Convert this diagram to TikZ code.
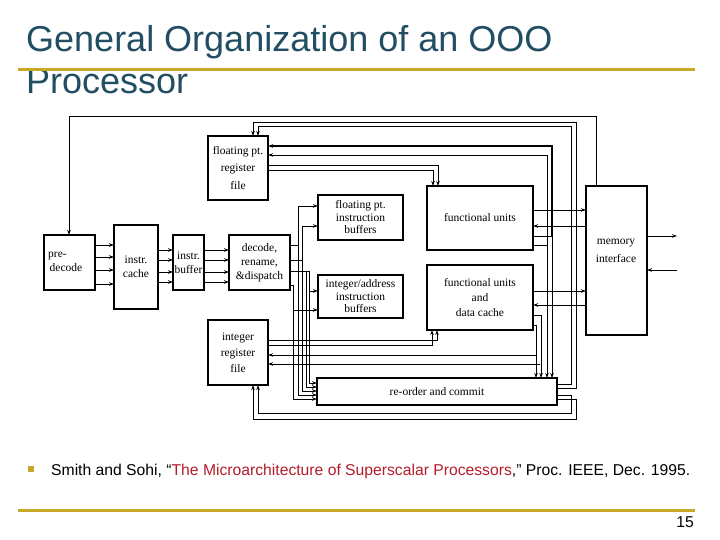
\documentclass[tikz,border=0pt]{standalone}
\usepackage{fontspec}
\setmainfont{Liberation Serif}
\newfontfamily\slidefont{Liberation Sans}
\usetikzlibrary{arrows.meta,calc}
\definecolor{titlecol}{RGB}{33,78,98}
\definecolor{goldcol}{RGB}{200,168,40}
\definecolor{refred}{RGB}{180,28,40}
\tikzset{
  blk/.style={draw, line width=2.6pt, align=center, inner sep=1pt, outer sep=0pt, font=\fontsize{11.5}{14}\selectfont},
  wire/.style={line width=0.8pt},
  arr/.style={wire, -{Stealth[length=5pt,width=3.5pt]}},
  goldrule/.style={goldcol, line width=3pt},
}
\begin{document}
\begin{tikzpicture}[x=1pt,y=-1pt]
\useasboundingbox (0,0) rectangle (720,540);
% title
\node[anchor=base west, inner sep=0pt, text=titlecol, align=left, font=\slidefont\fontsize{36}{42}\selectfont] (title) at (26,94) {General Organization of an OOO\\Processor};
\draw[goldrule] (18,70) coordinate (g1) -- (695,70) coordinate (g2);
\draw[goldrule] (18,510) coordinate (g3) -- (695,510) coordinate (g4);
% boxes
\node[blk, anchor=north west, minimum width=51, minimum height=55] (pre) at (44,235) {};
\node[anchor=west, align=left, inner sep=0pt, font=\fontsize{11.5}{14}\selectfont] (pretxt) at (48,262) {pre-\\\hspace*{1.5pt}decode};
\node[blk, anchor=north west, minimum width=44, minimum height=84] (cache) at (114,225) {instr.\\cache};
\node[blk, anchor=north west, minimum width=31, minimum height=55, font=\fontsize{11.5}{13.5}\selectfont] (buf) at (173,235) {instr.\\buffer};
\node[blk, anchor=north west, minimum width=61, minimum height=55, font=\fontsize{11.5}{14}\selectfont] (dec) at (229,235) {decode,\\rename,\\\&dispatch};
\node[blk, anchor=north west, minimum width=60, minimum height=64, font=\fontsize{11.5}{17.5}\selectfont] (fpreg) at (208,136) {floating pt.\\register\\file};
\node[blk, anchor=north west, minimum width=85, minimum height=45, font=\fontsize{11.5}{12.5}\selectfont] (fpbuf) at (318,195) {floating pt.\\instruction\\buffers};
\node[blk, anchor=north west, minimum width=106, minimum height=64] (fu) at (427,186) {functional units};
\node[blk, anchor=north west, minimum width=85, minimum height=43, font=\fontsize{11.5}{12.5}\selectfont] (intbuf) at (318,275) {integer/address\\instruction\\buffers};
\node[blk, anchor=north west, minimum width=106, minimum height=65, font=\fontsize{11.5}{15}\selectfont] (fudc) at (427,265) {functional units\\and\\data cache};
\node[blk, anchor=north west, minimum width=60, minimum height=65, font=\fontsize{11.5}{16}\selectfont] (intreg) at (208,320) {integer\\register\\file};
\node[blk, anchor=north west, minimum width=240, minimum height=27] (rob) at (317,378) {re-order and commit};
\node[blk, anchor=north west, minimum width=61, minimum height=149] (mem) at (586,186) {};
\node[align=center, inner sep=0pt, font=\fontsize{11.5}{18}\selectfont] (memtxt) at (616,251) {memory\\interface};
% front end arrows
\foreach \y in {245,257,270,284} \draw[arr] (pre.east |- 0,\y) -- (cache.west |- 0,\y);
\foreach \y in {250,260,272,282} \draw[arr] (cache.east |- 0,\y) -- (buf.west |- 0,\y);
\foreach \y in {250,260,272,282} \draw[arr] (buf.east |- 0,\y) -- (dec.west |- 0,\y);
% memory feedback to predecode
\draw[arr] (mem.north west) ++(10,0) |- (69,116) -- (pre.north -| 69,0);
% memory external
\coordinate (extout) at (677,236);
\coordinate (extin) at (677,270);
\draw[arr] (mem.east |- extout) -- (extout);
\draw[arr] (extin) -- (mem.east |- extin);
% functional units <-> memory
\draw[arr] (fu.east |- 0,210) -- (mem.west |- 0,210);
\draw[arr] (mem.west |- 0,226) -- (fu.east |- 0,226);
\draw[arr] (fudc.east |- 0,291) -- (mem.west |- 0,291);
\draw[arr] (mem.west |- 0,305) -- (fudc.east |- 0,305);
% fu results -> fp reg file and rob
\draw[wire] (fu.east |- 0,236) -- (552,236);
\draw[wire] (fu.east |- 0,245) -- (547,245);
\draw[arr, line width=1.6pt] (552,236) |- (fpreg.east |- 0,146);
\draw[arr] (547,245) |- (fpreg.east |- 0,155);
\draw[arr] (552,236) -- (rob.north -| 552,0);
\draw[arr] (547,245) -- (rob.north -| 547,0);
% fudc results -> rob and int reg
\draw[arr] (fudc.east |- 0,315) -| (rob.north -| 541,0);
\draw[arr] (fudc.east |- 0,325) -| (rob.north -| 536,0);
\draw[arr] (536,355) -- (intreg.east |- 0,355);
\draw[arr] (540,364) -- (intreg.east |- 0,364);
% fp reg -> fu
\draw[arr] (fpreg.east |- 0,165) -| (fu.north -| 438,0);
\draw[arr] (fpreg.east |- 0,170) -| (fu.north -| 433,0);
% int reg -> fudc
\draw[arr] (intreg.east |- 0,340) -| (fudc.south -| 437,0);
\draw[arr] (intreg.east |- 0,345) -| (fudc.south -| 432,0);
% rob commit -> register files
\draw[arr] (rob.east |- 0,384) -| (571,126) -| (fpreg.north -| 258,0);
\draw[arr] (rob.east |- 0,388) -| (576,122) -| (fpreg.north -| 253,0);
\draw[arr] (rob.east |- 0,395) -| (571,413) -| (intreg.south -| 258,0);
\draw[arr] (rob.east |- 0,399) -| (576,419) -| (intreg.south -| 253,0);
% decode -> buffers and rob
\draw[wire] (dec.east |- 0,245) -- (298,245);
\draw[wire] (dec.east |- 0,260) -- (302,260);
\draw[wire] (dec.east |- 0,271) -- (309,271);
\draw[wire] (dec.east |- 0,285) -- (293,285);
\draw[arr] (298,245) |- (fpbuf.west |- 0,206);
\draw[arr] (302,260) |- (fpbuf.west |- 0,226);
\draw[arr] (309,271) |- (intbuf.west |- 0,291);
\draw[arr] (293,285) |- (intbuf.west |- 0,310);
\draw[arr] (293,285) |- (rob.west |- 0,399);
\draw[arr] (298,245) |- (rob.west |- 0,395);
\draw[arr] (302,260) |- (rob.west |- 0,391);
\draw[arr] (306,271) |- (rob.west |- 0,387);
\draw[arr] (309,271) |- (rob.west |- 0,383);
% citation
\fill[goldcol] (28,466) rectangle (34,472);
\node[anchor=base west, inner sep=0pt, font=\slidefont\fontsize{15.7}{18}\selectfont] (cite) at (51,475) {Smith and Sohi, “\textcolor{refred}{The Microarchitecture of Superscalar Processors},” Proc. IEEE, Dec. 1995.};
\node[anchor=base east, inner sep=0pt, font=\slidefont\fontsize{15.7}{18}\selectfont] (pnum) at (694,527) {15};
\end{tikzpicture}
\end{document}
